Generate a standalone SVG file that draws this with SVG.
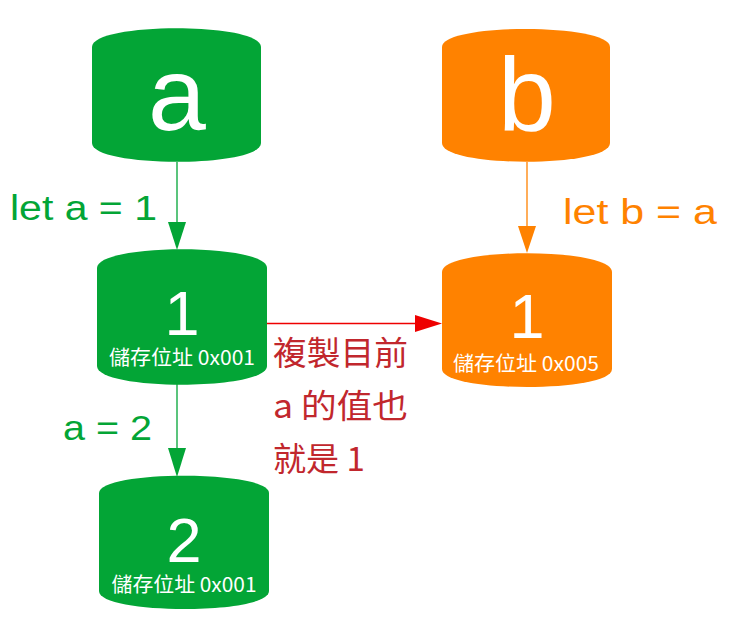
<svg xmlns="http://www.w3.org/2000/svg" width="729" height="634" viewBox="0 0 729 634">
<style>
.g{fill:#03a536}
.o{fill:#ff8200}
.big{font-family:"Liberation Sans","Noto Sans",sans-serif;fill:#fff;text-anchor:middle}
.sub{font-family:"Noto Sans CJK TC","Noto Sans CJK SC",sans-serif;font-size:20px;fill:#fff;text-anchor:middle}
.lbl{font-family:"Liberation Sans","Noto Sans",sans-serif;font-size:35px}
.red{font-family:"Noto Sans CJK TC","Noto Sans CJK SC",sans-serif;font-size:33px;fill:#c1272d}
</style>
<rect width="729" height="634" fill="#fff"/>
<g id="connectors">
  <g id="e-a-1">
    <line x1="177" y1="162" x2="177" y2="224" stroke="#03a536" stroke-width="1.3"/>
    <polygon points="168,222 186,222 177,250" fill="#03a536"/>
    <text class="lbl" x="10" y="220" fill="#03a536" textLength="147" lengthAdjust="spacingAndGlyphs">let a = 1</text>
  </g>
  <g id="e-1-2">
    <line x1="177" y1="384" x2="177" y2="450" stroke="#03a536" stroke-width="1.3"/>
    <polygon points="168,448 186,448 177,477" fill="#03a536"/>
    <text class="lbl" x="63" y="440" fill="#03a536" textLength="89" lengthAdjust="spacingAndGlyphs">a = 2</text>
  </g>
  <g id="e-b-b1">
    <line x1="527" y1="162" x2="527" y2="228" stroke="#ff8200" stroke-width="1.3"/>
    <polygon points="518,226 536,226 527,253" fill="#ff8200"/>
    <text class="lbl" x="563" y="224" fill="#ff8200" textLength="154" lengthAdjust="spacingAndGlyphs">let b = a</text>
  </g>
  <g id="e-1-b1">
    <line x1="267" y1="323.5" x2="418" y2="323.5" stroke="#ee0000" stroke-width="1.3"/>
    <polygon points="415,315 415,332 442,323.5" fill="#ee0000"/>
    <text class="red" x="273" y="365" textLength="135" lengthAdjust="spacingAndGlyphs">複製目前</text>
    <text class="red" x="273" y="418" textLength="135" lengthAdjust="spacingAndGlyphs">a 的值也</text>
    <text class="red" x="273" y="471" textLength="92" lengthAdjust="spacingAndGlyphs">就是 1</text>
  </g>
</g>
<g id="node-a">
  <path class="g" d="M92,47 C92,22 261,22 261,47 V143 C261,168 92,168 92,143 Z"/>
  <text class="big" x="177" y="130" font-size="104">a</text>
</g>
<g id="node-a1">
  <path class="g" d="M97,268 C97,243 267,243 267,268 V366 C267,391 97,391 97,366 Z"/>
  <text class="big" x="182" y="335" font-size="63">1</text>
  <text class="sub" x="182" y="365" textLength="146" lengthAdjust="spacingAndGlyphs">儲存位址 0x001</text>
</g>
<g id="node-a2">
  <path class="g" d="M99,493 C99,470 269,470 269,493 V591 C269,615 99,615 99,591 Z"/>
  <text class="big" x="184" y="562" font-size="63">2</text>
  <text class="sub" x="184" y="592" textLength="145" lengthAdjust="spacingAndGlyphs">儲存位址 0x001</text>
</g>
<g id="node-b">
  <path class="o" d="M442,47 C442,23 610,23 610,47 V143 C610,168 442,168 442,143 Z"/>
  <text class="big" x="527" y="130" font-size="104">b</text>
</g>
<g id="node-b1">
  <path class="o" d="M442,272 C442,247 612,247 612,272 V369 C612,393 442,393 442,369 Z"/>
  <text class="big" x="527" y="338" font-size="63">1</text>
  <text class="sub" x="526" y="371" textLength="146" lengthAdjust="spacingAndGlyphs">儲存位址 0x005</text>
</g>
</svg>
